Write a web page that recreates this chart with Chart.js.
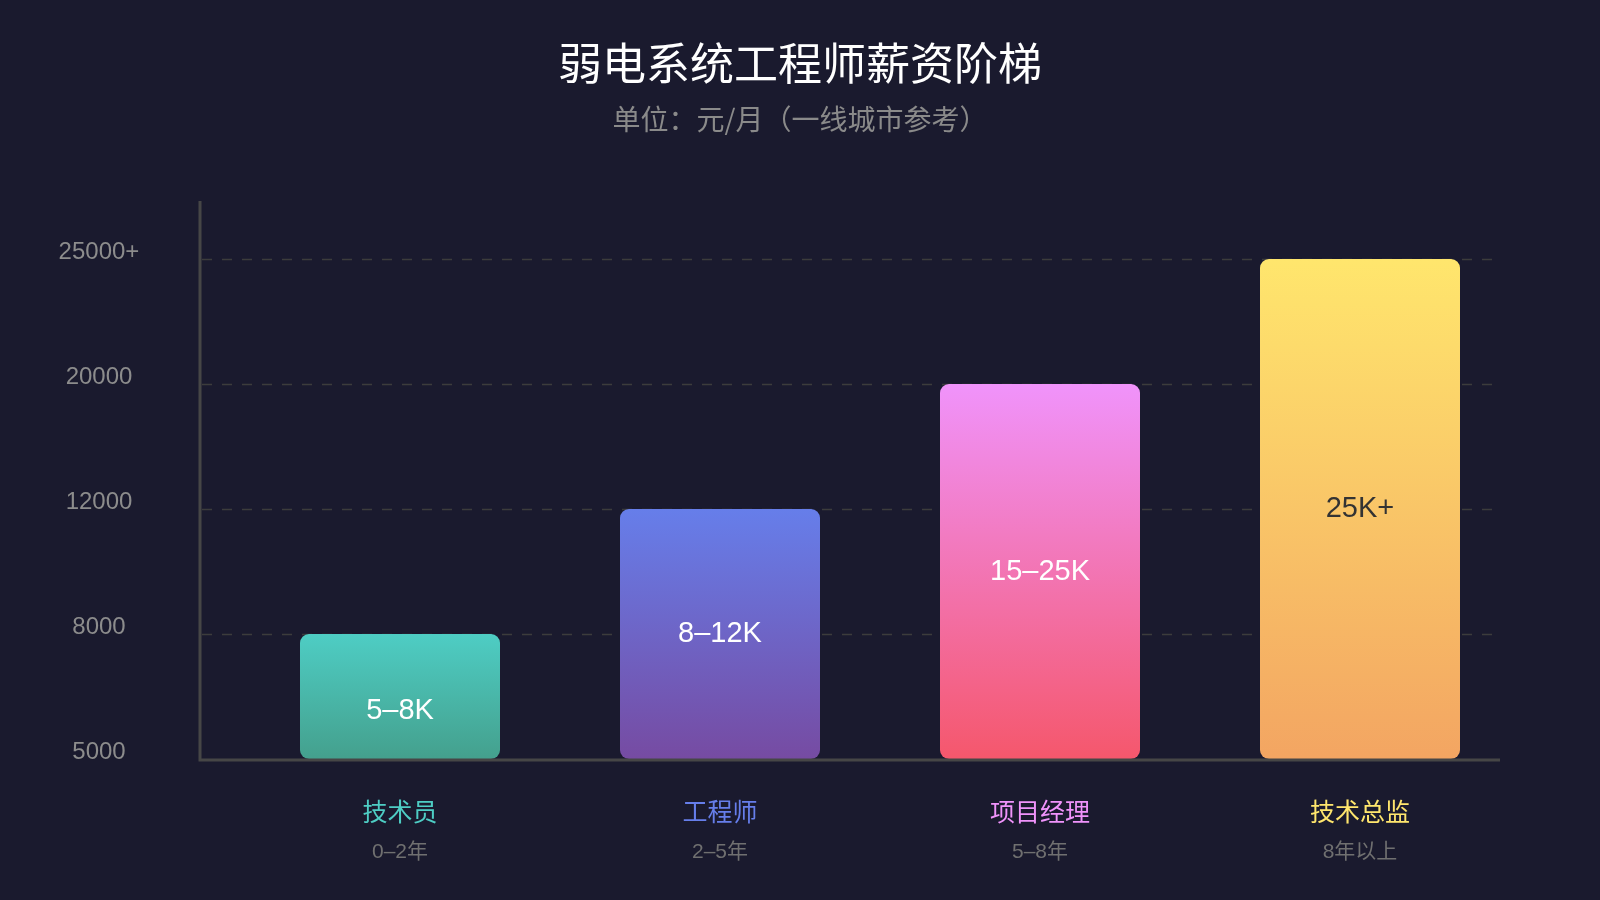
<!DOCTYPE html>
<html>
<head>
<meta charset="utf-8">
<script src="https://cdn.jsdelivr.net/npm/chart.js@4.4.1/dist/chart.umd.min.js"></script>
<style>
  html, body { margin: 0; padding: 0; background: #1a1a2e; }
  #wrap { width: 1600px; height: 900px; position: relative; }
</style>
</head>
<body>
<div id="wrap"><canvas id="c" width="1600" height="900"></canvas></div>
<script>
// ---- data ----
const categories = ['技术员', '工程师', '项目经理', '技术总监'];
const experience = ['0–2年', '2–5年', '5–8年', '8年以上'];
const salaryTop = [8000, 12000, 20000, 25000];
const barLabels = ['5–8K', '8–12K', '15–25K', '25K+'];
const tickValues = [5000, 8000, 12000, 20000, 25000];
const tickLabels = ['5000', '8000', '12000', '20000', '25000+'];
const gradTop = ['#4ecdc4', '#667eea', '#f093fb', '#ffe66d'];
const gradBottom = ['#44a08d', '#764ba2', '#f5576c', '#f3a562'];
const nameColors = ['#4ecdc4', '#667eea', '#f093fb', '#ffe66d'];
const barTextColors = ['#ffffff', '#ffffff', '#ffffff', '#333333'];

// salary mapped onto tick ladder level (axis is a step ladder, not linear)
const levels = salaryTop.map(v => tickValues.indexOf(v));

const FONT = "'Liberation Sans', 'Noto Sans CJK SC', sans-serif";
const CJK = "'Noto Sans CJK SC', 'Liberation Sans', sans-serif";

const decor = {
  id: 'decor',
  beforeDraw(chart) {
    const ctx = chart.ctx;
    const y = chart.scales.y;
    ctx.save();
    ctx.fillStyle = '#1a1a2e';
    ctx.fillRect(0, 0, chart.width, chart.height);
    // dashed grid
    ctx.strokeStyle = '#3c3c3c';
    ctx.lineWidth = 1.5;
    ctx.setLineDash([10, 10]);
    for (let i = 1; i < tickValues.length; i++) {
      const py = Math.round(y.getPixelForValue(i)) + 0.5;
      ctx.beginPath();
      ctx.moveTo(202, py);
      ctx.lineTo(1492, py);
      ctx.stroke();
    }
    ctx.setLineDash([]);
    ctx.restore();
  },
  afterDraw(chart) {
    const ctx = chart.ctx;
    const y = chart.scales.y;
    const x = chart.scales.x;
    ctx.save();
    // axes
    const base = y.getPixelForValue(0);
    ctx.strokeStyle = '#464646';
    ctx.lineWidth = 3;
    ctx.beginPath();
    ctx.moveTo(200, 201);
    ctx.lineTo(200, base + 1);
    ctx.lineTo(1500, base + 1);
    ctx.stroke();

    // title
    ctx.textAlign = 'center';
    ctx.textBaseline = 'middle';
    ctx.fillStyle = '#ffffff';
    ctx.font = `400 44px ${CJK}`;
    ctx.fillText('弱电系统工程师薪资阶梯', 800, 63);
    ctx.fillStyle = '#8a8a8a';
    ctx.font = `400 28px ${CJK}`;
    ctx.fillText('单位：元/月（一线城市参考）', 800, 119);

    // y tick labels
    ctx.fillStyle = '#8c8c8c';
    ctx.font = `24px ${FONT}`;
    tickLabels.forEach((t, i) => {
      ctx.fillText(t, 99, y.getPixelForValue(i) - 7);
    });

    // category labels
    categories.forEach((c, i) => {
      const cx = x.getPixelForValue(i);
      ctx.fillStyle = nameColors[i];
      ctx.font = `400 25px ${CJK}`;
      ctx.fillText(c, cx, 811);
      ctx.fillStyle = '#707070';
      ctx.font = `21px ${FONT}`;
      ctx.fillText(experience[i], cx, 852);
    });

    // bar labels
    const meta = chart.getDatasetMeta(0);
    meta.data.forEach((bar, i) => {
      const top = bar.y, bottom = bar.base;
      let cy = (top + bottom) / 2;
      if (bottom - top < 150) cy += 14;
      ctx.fillStyle = barTextColors[i];
      ctx.font = `29px ${FONT}`;
      ctx.fillText(barLabels[i], bar.x, cy);
    });
    ctx.restore();
  }
};

new Chart(document.getElementById('c'), {
  type: 'bar',
  data: {
    labels: categories,
    datasets: [{
      data: levels,
      backgroundColor(ctx) {
        const chart = ctx.chart;
        const i = ctx.dataIndex;
        if (!chart.chartArea || i === undefined) return gradTop[i || 0];
        const ys = chart.scales.y;
        const top = ys.getPixelForValue(levels[i]);
        const bottom = ys.getPixelForValue(0);
        const g = chart.ctx.createLinearGradient(0, top, 0, bottom);
        g.addColorStop(0, gradTop[i]);
        g.addColorStop(1, gradBottom[i]);
        return g;
      },
      borderRadius: 9,
      borderSkipped: false,
      barPercentage: 0.625,
      categoryPercentage: 1.0
    }]
  },
  options: {
    responsive: false,
    animation: false,
    devicePixelRatio: 1,
    layout: { padding: { left: 240, right: 80, top: 259, bottom: 141 } },
    plugins: { legend: { display: false }, tooltip: { enabled: false }, title: { display: false } },
    scales: {
      x: { display: false, offset: true, grid: { display: false } },
      y: { display: false, min: 0, max: tickValues.length - 1, grid: { display: false } }
    }
  },
  plugins: [decor]
});
</script>
</body>
</html>
